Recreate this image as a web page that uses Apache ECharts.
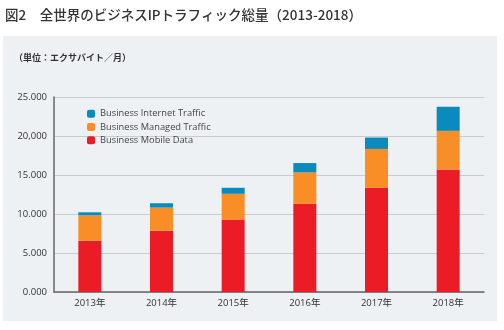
<!DOCTYPE html>
<html><head><meta charset="utf-8">
<script src="https://cdn.jsdelivr.net/npm/echarts@6/dist/echarts.min.js"></script>
<style>html,body{margin:0;padding:0;background:#fff}#c{width:504px;height:330px}</style>
</head><body><div id="c"></div>
<script>
const categories = ['2013年','2014年','2015年','2016年','2017年','2018年'];
const mobileData = [6570, 7860, 9280, 11300, 13360, 15720];
const managedData = [3260, 2965, 3310, 4035, 4980, 4940];
const internetData = [390, 555, 770, 1195, 1460, 3090];
const yTickLabels = {0:'0.000',5000:'5.000',10000:'10.000',15000:'15.000',20000:'20,000',25000:'25.000'};
const seriesNames = ['Business Internet Traffic','Business Managed Traffic','Business Mobile Data'];

const chart = echarts.init(document.getElementById('c'), null, {renderer:'canvas'});
const font = '"Open Sans", "Noto Sans CJK JP", sans-serif';
chart.setOption({
  backgroundColor:'#ffffff',
  animation:false,
  graphic:[
    {type:'rect', z:-100, silent:true, shape:{x:3,y:36,width:494,height:285}, style:{fill:'#eef1f4'}},
    {type:'text', left:5, top:8, style:{text:'図2　全世界のビジネスIPトラフィック総量（2013-2018）', font:'500 13.5px "Noto Sans CJK JP", sans-serif', fill:'#333'}},
    {type:'text', left:14, top:53, style:{text:'（単位：エクサバイト／月）', font:'bold 9px "Noto Sans CJK JP", sans-serif', fill:'#333'}}
  ],
  legend:{
    orient:'vertical', left:82, top:104, itemWidth:8, itemHeight:8, itemGap:4,
    data:seriesNames,
    textStyle:{fontSize:9.3, color:'#444', fontFamily:font}
  },
  grid:{left:54, width:430, top:97, bottom:330-292, containLabel:false},
  xAxis:{
    type:'category', data:categories,
    axisLine:{lineStyle:{color:'#666', width:1.5}},
    axisTick:{show:false},
    axisLabel:{fontSize:9.5, color:'#333', margin:7, fontFamily:font}
  },
  yAxis:{
    type:'value', min:0, max:25000, interval:5000,
    axisLine:{show:true, lineStyle:{color:'#666', width:1.5}},
    axisTick:{show:false},
    splitLine:{lineStyle:{color:'#c9cbcd', width:1}},
    axisLabel:{fontSize:9.5, color:'#333', margin:7, fontFamily:font, formatter:v=>yTickLabels[v]}
  },
  series:[
    {name:seriesNames[2], type:'bar', stack:'a', data:mobileData, barWidth:23, itemStyle:{color:'#ec1c27'}},
    {name:seriesNames[1], type:'bar', stack:'a', data:managedData, barWidth:23, itemStyle:{color:'#f98e26'}},
    {name:seriesNames[0], type:'bar', stack:'a', data:internetData, barWidth:23, itemStyle:{color:'#0b8bbc'}}
  ]
});
</script></body></html>
